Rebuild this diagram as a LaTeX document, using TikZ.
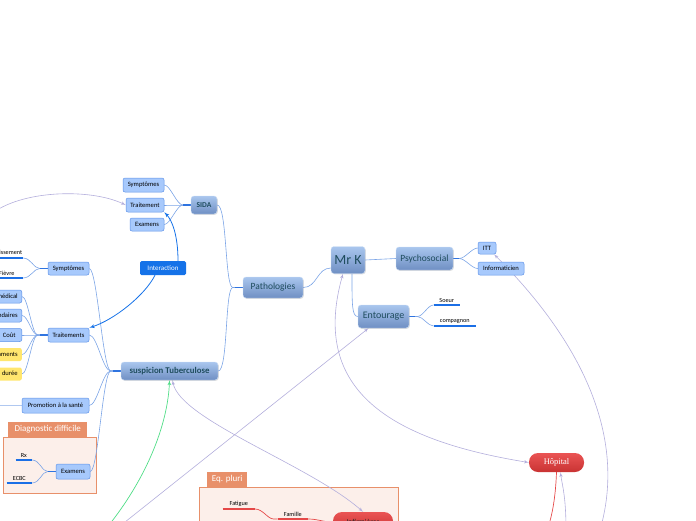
\documentclass[tikz,border=0pt]{standalone}
\usepackage{fontspec}
\setmainfont{Carlito}
\newfontfamily\hopfont{Liberation Serif}
\usepackage{xcolor}
\usepackage{tikz}
\usetikzlibrary{shapes,arrows,positioning,calc,shadows}

\definecolor{linkblue}{HTML}{7BA4E6}
\definecolor{stubblue}{HTML}{2F74E0}
\definecolor{ulblue}{HTML}{1B6FE6}
\definecolor{relcol}{HTML}{B3AEDC}
\definecolor{interblue}{HTML}{1572E8}
\definecolor{relgreen}{HTML}{4FDD86}
\definecolor{redline}{HTML}{E54848}
\definecolor{topictop}{HTML}{A9C6EE}
\definecolor{topicbot}{HTML}{6F8FC3}
\definecolor{topictext}{HTML}{1F4D5E}
\definecolor{subfill}{HTML}{A7C9FC}
\definecolor{subline}{HTML}{5E92E8}
\definecolor{noteyellow}{HTML}{FFE66E}
\definecolor{hoptop}{HTML}{EA5454}
\definecolor{hopbot}{HTML}{C93333}
\definecolor{tabcol}{HTML}{E8906A}
\definecolor{boundfill}{HTML}{FCEFEA}

\tikzstyle{topic} = [rectangle, draw=topictop!60!white, top color=topictop, bottom color=topicbot, text=topictext, rounded corners=3pt, inner sep=0pt, drop shadow={opacity=0.25, shadow xshift=0.8pt, shadow yshift=-0.8pt}]
\tikzstyle{sub} = [rectangle, draw=subline, line width=0.5pt, fill=subfill, rounded corners=2pt, inner sep=0pt, minimum height=13pt, font=\fontsize{6.6}{8}\selectfont]
\tikzstyle{cut} = [sub, anchor=east, inner xsep=4pt, minimum width=25pt]
\tikzstyle{note} = [cut, draw=none, fill=noteyellow]
\tikzstyle{leaf} = [anchor=south east, inner xsep=0pt, inner ysep=2pt, font=\fontsize{6.2}{7}\selectfont]
\tikzstyle{inter} = [rectangle, fill=interblue, text=white, rounded corners=1.5pt, minimum width=46pt, minimum height=14pt, inner sep=0pt, font=\fontsize{7}{8}\selectfont]
\tikzstyle{redtopic} = [rectangle, top color=hoptop, bottom color=hopbot, rounded corners=9pt, inner sep=0pt]
\tikzstyle{tab} = [rectangle, fill=tabcol, text=white, anchor=south west, inner sep=0pt, minimum height=15pt, font=\fontsize{9}{10}\selectfont]
\tikzstyle{bound} = [draw=tabcol, fill=boundfill, line width=0.7pt]
\tikzstyle{link} = [draw, linkblue, line width=0.6pt]
\tikzstyle{stub} = [draw, stubblue, line width=1.1pt]
\tikzstyle{uline} = [draw, ulblue, line width=1.1pt]
\tikzstyle{redlink} = [draw, redline, line width=0.7pt]
\tikzstyle{rel} = [draw, relcol, line width=0.6pt, -latex']
\tikzstyle{iarrow} = [draw, interblue, line width=0.8pt, -latex']

\pgfdeclarelayer{back}
\pgfdeclarelayer{lines}
\pgfsetlayers{back,lines,main}

\begin{document}
\begin{tikzpicture}[x=1pt, y=-1pt]
        \useasboundingbox (0,0) rectangle (696,520);

        % Boundaries
        \begin{pgfonlayer}{back}
        \draw [bound] (3,437) rectangle (96,493);
        \node [tab, minimum width=79pt] (diagtab) at (8,437) {Diagnostic difficile};
        \draw [bound] (199,487) rectangle (398,540);
        \node [tab, minimum width=40pt] (eqtab) at (207,487) {Eq. pluri};
        \end{pgfonlayer}

        % Nodes
        \node [topic, minimum width=34pt, minimum height=27pt, font=\fontsize{14}{16}\selectfont] (mrk) at (348,260) {Mr K};
        \node [topic, minimum width=57pt, minimum height=23pt, font=\fontsize{9.5}{11}\selectfont] (psycho) at (424.5,258.5) {Psychosocial};
        \node [topic, minimum width=51pt, minimum height=23pt, font=\fontsize{10}{12}\selectfont] (entourage) at (383.5,316.5) {Entourage};
        \node [topic, minimum width=60pt, minimum height=21pt, font=\fontsize{9.5}{11}\selectfont] (patho) at (273,287.5) {Pathologies};
        \node [topic, minimum width=26pt, minimum height=18pt, font=\fontsize{7.5}{9}\selectfont\bfseries] (sida) at (204,205) {SIDA};
        \node [topic, minimum width=97pt, minimum height=18pt, font=\fontsize{8.8}{10}\selectfont\bfseries] (tb) at (169.5,371) {suspicion Tuberculose};

        \node [sub, minimum width=18pt, minimum height=12pt] (itt) at (487,248) {ITT};
        \node [sub, minimum width=46pt] (info) at (501,268.5) {Informaticien};
        \node [sub, minimum width=41pt, minimum height=14pt] (sidasym) at (143.5,185) {Symptômes};
        \node [sub, minimum width=38pt, minimum height=14pt] (sidatrait) at (145,205) {Traitement};
        \node [sub, minimum width=34pt] (sidaexam) at (147,224.5) {Examens};
        \node [inter] (interaction) at (163,268) {Interaction};
        \node [sub, minimum width=41pt] (tbsym) at (68.5,268.5) {Symptômes};
        \node [sub, minimum width=41pt, minimum height=14pt] (tbtrait) at (68.5,335) {Traitements};
        \node [sub, minimum width=67pt, minimum height=15pt] (promo) at (55.5,405.5) {Promotion à la santé};
        \node [sub, minimum width=34pt, minimum height=15pt] (exam) at (73,471.5) {Examens};

        \node [cut] (suivi) at (22,296.5) {Suivi médical};
        \node [cut] (effets) at (22,315.5) {Effets secondaires};
        \node [cut] (cout) at (22,335) {Coût};
        \node [note] (medic) at (22,354.5) {Médicaments};
        \node [note] (duree) at (22,374) {Longue durée};

        \node [leaf, minimum width=42pt] (amai) at (23,258) {Amaigrissement};
        \node [leaf, minimum width=32pt] (fievre) at (23,278) {Fièvre};
        \node [leaf, minimum width=16pt] (rx) at (32,460) {Rx};
        \node [leaf, minimum width=25pt] (ecbc) at (32,483) {ECBC};
        \node [leaf, minimum width=26pt] (soeur) at (460,305) {Soeur};
        \node [leaf, minimum width=42pt] (compa) at (476,326) {compagnon};
        \node [leaf, minimum width=32pt] (fatigue) at (255,509) {Fatigue};
        \node [leaf, minimum width=30pt] (famille) at (308,519) {Famille};

        \node [redtopic, minimum width=55pt, minimum height=19pt, text=white, font=\hopfont\fontsize{8.5}{10}\selectfont] (hopital) at (556.5,462.5) {Hôpital};
        \node [redtopic, minimum width=60pt, minimum height=20pt, text=black!85, font=\fontsize{7.5}{9}\selectfont] (infirm) at (363,522) {Infirmières};

        \coordinate (lsrc) at (-10,215);
        \coordinate (gsrc) at (105,530);
        \coordinate (esrc) at (115,530);
        \coordinate (hsrc) at (566,530);
        \coordinate (isrc) at (600,530);
        \coordinate (promoend) at (-5,405.5);

        \begin{pgfonlayer}{lines}
        % Paths
        \path [link] ([yshift=-8pt]mrk.west) .. controls +(-14,0) and +(14,0) .. (patho.east);
        \path [link] (mrk.east) .. controls +(15,0) and +(-15,0) .. (psycho.west);
        \path [link] ([xshift=4pt]mrk.south) .. controls +(0,30) and +(-6,0) .. (entourage.west);
        \foreach \c in {itt,info}
            \path [link] (psycho.east) -- ++(6,0) .. controls +(6,0) and +(-6,0) .. (\c.west);
        \foreach \c in {soeur,compa}
            \path [link] (entourage.east) -- ++(8,0) .. controls +(6,0) and +(-6,0) .. (\c.south west);
        \foreach \c in {sida,tb}
            \path [link] (patho.west) -- ++(-10,0) .. controls +(-8,0) and +(10,0) .. (\c.east);
        \foreach \c in {sidasym,sidatrait,sidaexam}
            \path [link] (sida.west) -- ++(-8,0) .. controls +(-6,0) and +(6,0) .. (\c.east);
        \foreach \c in {tbsym,tbtrait,promo,exam}
            \path [link] (tb.west) -- ++(-10,0) .. controls +(-8,0) and +(8,0) .. (\c.east);
        \foreach \c in {amai,fievre}
            \path [link] (tbsym.west) -- ++(-8,0) .. controls +(-6,0) and +(8,0) .. (\c.south east);
        \foreach \c in {suivi,effets,cout,medic,duree}
            \path [link] (tbtrait.west) -- ++(-10,0) .. controls +(-6,0) and +(6,0) .. (\c.east);
        \foreach \c in {rx,ecbc}
            \path [link] (exam.west) -- ++(-8,0) .. controls +(-6,0) and +(8,0) .. (\c.south east);
        \path [link, linkblue!60] (promo.west) -- (promoend);
        \foreach \p in {sida,tb,tbsym,tbtrait,exam,patho}
            \path [stub] (\p.west) -- ++(-8,0);
        \foreach \p in {psycho,entourage}
            \path [stub] (\p.east) -- ++(6,0);
        \foreach \n in {amai,fievre,rx,ecbc,soeur,compa}
            \path [uline] (\n.south west) -- (\n.south east);
        \foreach \n in {fatigue,famille}
            \path [uline, redline] (\n.south west) -- (\n.south east);
        \path [redlink] (infirm.west) .. controls +(-10,0) and +(10,0) .. (famille.south east);
        \path [redlink] (famille.south west) -- ++(-4,0) .. controls +(-6,0) and +(8,0) .. (fatigue.south east);
        \path [redlink] (hopital.south) .. controls (550,640) and (440,525) .. (infirm.east);

        % Relations
        \path [rel] (lsrc) .. controls (20,190) and (90,188) .. (sidatrait.west);
        \path [rel, latex'-latex'] ([xshift=3pt]tb.south) .. controls (180,420) and (310,465) .. (infirm.north);
        \path [rel] (esrc) -- ([xshift=-15pt]entourage.south);
        \path [rel, latex'-latex'] ([xshift=-5pt]mrk.south) .. controls (310,390) and (390,440) .. (hopital.west);
        \path [rel] (hsrc) .. controls (566,495) and (562,485) .. ([xshift=4pt]hopital.south);
        \path [rel] (isrc) .. controls (632,420) and (560,320) .. ([xshift=7pt]itt.south);
        \path [draw, relgreen, line width=0.7pt, -latex'] (gsrc) .. controls (150,475) and (168,420) .. (tb.south);
        \path [iarrow] ([xshift=15pt]interaction.north) .. controls +(0,-25) and +(8,8) .. (sidatrait.south east);
        \path [iarrow] ([xshift=-8pt]interaction.south) .. controls +(-10,20) and +(25,-8) .. (tbtrait.north east);
        \end{pgfonlayer}
    \end{tikzpicture}
\end{document}
